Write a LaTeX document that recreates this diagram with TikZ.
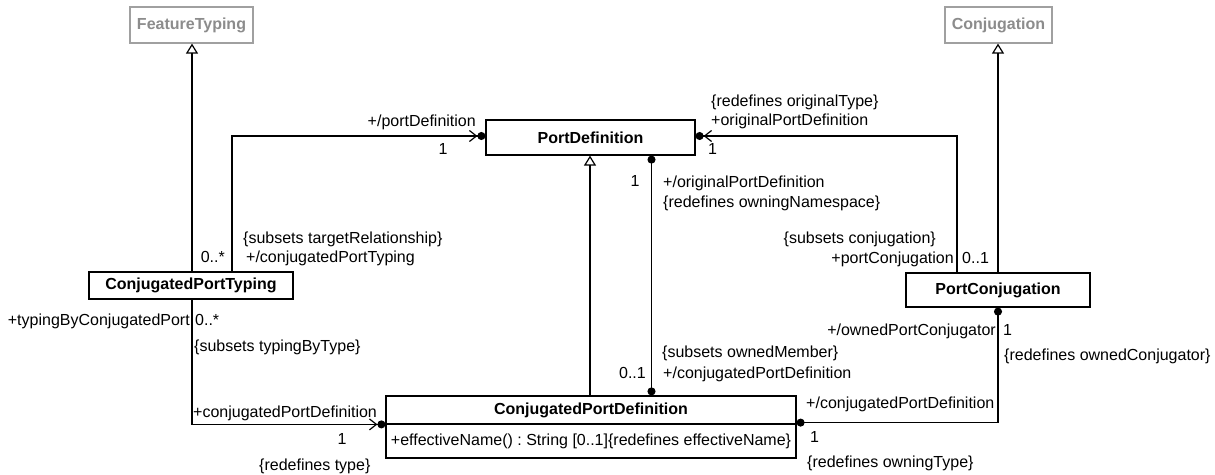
\documentclass[tikz,border=0pt]{standalone}
\usepackage{fontspec}
\setmainfont{Liberation Sans}
\usetikzlibrary{arrows.meta}
\frenchspacing
\definecolor{ghost}{HTML}{8C8C8C}
\definecolor{ghostline}{HTML}{A0A0A0}
\tikzset{
  cls/.style={draw, line width=1.2pt, inner sep=0pt, font=\fontsize{16}{20}\selectfont\bfseries, fill=white},
  ghostcls/.style={cls, draw=ghostline, text=ghost},
  gen/.style={line width=1.2pt, -{Triangle[open,length=10pt,width=12pt,line width=1.2pt]}},
  nav/.style={line width=1.2pt, -{Straight Barb[length=7pt,width=11pt,line width=1.2pt]Circle[length=8pt]}},
  comp/.style={line width=1.2pt, {Circle[length=8pt]}-{Circle[length=8pt]}},
  lbl/.style={font=\fontsize{16}{20}\selectfont, inner sep=0pt},
  lw/.style={lbl, anchor=base west},
  le/.style={lbl, anchor=base east},
  lc/.style={lbl, anchor=base},
}
\begin{document}
\begin{tikzpicture}[x=1pt,y=-1pt]
\useasboundingbox (0,0) rectangle (1215,474);

% classes
\node[ghostcls, minimum width=123pt, minimum height=36pt] (FT) at (191.5,25) {FeatureTyping};
\node[ghostcls, minimum width=107pt, minimum height=36pt] (Conj) at (998.5,25) {Conjugation};
\node[cls, minimum width=209pt, minimum height=35pt] (PD) at (590.5,137.5) {PortDefinition};
\node[cls, minimum width=204pt, minimum height=27pt] (CPT) at (191,285.5) {ConjugatedPortTyping};
\node[cls, minimum width=184pt, minimum height=34pt] (PC) at (998,290) {PortConjugation};
\node[cls, minimum width=410pt, minimum height=28pt] (cpd) at (591,410) {ConjugatedPortDefinition};
\node[cls, minimum width=410pt, minimum height=34pt, font=\fontsize{16}{20}\selectfont] (cpdop) at (591,441) {+effectiveName() : String [0..1]\{redefines effectiveName\}};

% generalizations
\draw[gen] ([xshift=0.5pt]FT.south |- CPT.north) -- ([xshift=0.5pt]FT.south);
\draw[gen] ([xshift=-0.5pt]Conj.south |- PC.north) -- ([xshift=-0.5pt]Conj.south);
\draw[gen] ([xshift=-0.5pt]PD.south |- cpd.north) -- ([xshift=-0.5pt]PD.south);

% compositions
\draw[comp] ([xshift=61pt]PD.south) -- ([xshift=61pt]PD.south |- cpd.north);
\draw[comp] (PC.south) |- ([yshift=2pt]cpd.south east);

% navigable associations
\draw[nav] ([xshift=41pt]CPT.north) |- ([yshift=1.5pt]PD.west);
\draw[nav] ([xshift=-41pt]PC.north) |- ([yshift=1.5pt]PD.east);
\draw[nav] ([xshift=1pt]CPT.south) |- ([yshift=-1pt]cpdop.north west);

% labels: PD left association
\node[le] (l1) at (476,126) {+/portDefinition};
\node[lc] (l2) at (443,154) {1};
% PD right association
\node[lw] (l3) at (711,106) {\{redefines originalType\}};
\node[lw] (l4) at (711,125) {+originalPortDefinition};
\node[lw] (l5) at (708,154) {1};
% composition PD - CPD
\node[lc] (l6) at (635,186) {1};
\node[lw] (l7) at (663,187) {+/originalPortDefinition};
\node[lw] (l8) at (663,207) {\{redefines owningNamespace\}};
\node[lw] (l9) at (662,357) {\{subsets ownedMember\}};
\node[lw] (l10) at (663,378) {+/conjugatedPortDefinition};
\node[le] (l11) at (646,378) {0..1};
% CPT top
\node[lw] (l12) at (243,243) {\{subsets targetRelationship\}};
\node[lw] (l13) at (246,262) {+/conjugatedPortTyping};
\node[le] (l14) at (225,262) {0..*};
% CPT bottom
\node[le] (l15) at (190,325) {+typingByConjugatedPort};
\node[lw] (l16) at (195,325) {0..*};
\node[lw] (l17) at (194,351) {\{subsets typingByType\}};
\node[lw] (l18) at (193,417) {+conjugatedPortDefinition};
\node[lc] (l19) at (342,444) {1};
\node[lw] (l20) at (259,470) {\{redefines type\}};
% PC top
\node[le] (l21) at (936,243) {\{subsets conjugation\}};
\node[le] (l22) at (954,263) {+portConjugation};
\node[lw] (l23) at (962,263) {0..1};
% PC bottom
\node[le] (l24) at (996,335) {+/ownedPortConjugator};
\node[lw] (l25) at (1003,335) {1};
\node[lw] (l26) at (1004,360) {\{redefines ownedConjugator\}};
\node[lw] (l27) at (806,408) {+/conjugatedPortDefinition};
\node[lw] (l28) at (810,442) {1};
\node[lw] (l29) at (807,467) {\{redefines owningType\}};
\end{tikzpicture}
\end{document}
